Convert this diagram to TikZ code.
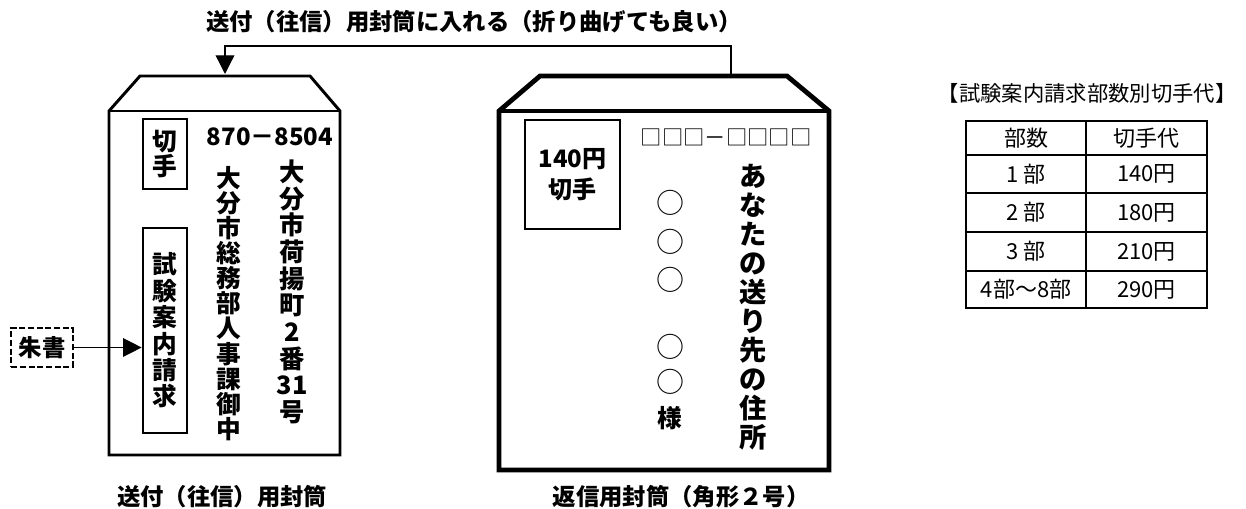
\documentclass[tikz,border=0pt]{standalone}
\usepackage{fontspec}
\newfontfamily\jp{Noto Sans CJK JP}
\usepackage{tikz}
\usetikzlibrary{arrows.meta}
\tikzset{
    envline/.style={line width=2.2pt},
    bigenvline/.style={line width=3.6pt},
    stampbox/.style={draw, line width=2pt, inner sep=0pt},
    tate/.style 2 args={align=center, inner sep=0pt, font=\jp\bfseries\fontsize{#1}{#2}\selectfont},
    boldlabel/.style={inner sep=0pt, font=\jp\bfseries\fontsize{17.5}{20}\selectfont},
    thinlabel/.style={inner sep=0pt, font=\jp\fontsize{#1}{20}\selectfont},
    tablecell/.style={inner sep=0pt, font=\jp\fontsize{16.5}{18}\selectfont},
    bigtip/.style={-{Triangle[length=14pt,width=14pt]}}
}

\begin{document}
\begin{tikzpicture}[x=0.75pt, y=-0.75pt]
            \useasboundingbox (0,0) rectangle (1246,509);

            % 1. Outgoing envelope
            \draw[envline] (109,455) -- (109,111) -- (140,76) -- (310,76) -- (340,111) -- (340,455) -- cycle;
            \draw[envline] (109,111) -- (340,111);
            \node[stampbox, tate={18.5}{19}, minimum width=33pt, minimum height=52.5pt] (lstamp) at (165,154) {切\\手};
            \node[stampbox, tate={18.5}{19.8}, minimum width=33pt, minimum height=153.75pt] (reqbox) at (165,330.5) {試\\験\\案\\内\\請\\求};
            \node[boldlabel, font=\jp\bfseries\fontsize{18}{20}\selectfont] (zip) at (270,137) {870－8504};
            \node[tate={19}{20}] (addr) at (292,292) {大\\分\\市\\荷\\揚\\町\\2\\番\\31\\号};
            \node[tate={18.5}{18.8}] (dept) at (229,303.5) {大\\分\\市\\総\\務\\部\\人\\事\\課\\御\\中};
            \node[boldlabel] (lcap) at (222,497) {送付（往信）用封筒};

            % 2. Red-ink note
            \node[draw, dashed, line width=1.5pt, dash pattern=on 4.5pt off 2pt, boldlabel,
                  minimum width=46pt, minimum height=29pt] (zhusho) at (42,347.5) {朱書};
            \draw[bigtip, line width=1pt] (zhusho.east) -- (zhusho.east -| reqbox.west);

            % 3. Return envelope
            \draw[bigenvline] (499,470) -- (499,111) -- (540,76) -- (787,76) -- (829,111) -- (829,470) -- cycle;
            \draw[bigenvline] (499,111) -- (829,111);
            \node[stampbox, tate={18}{23.25}, minimum width=71.25pt, minimum height=81.75pt] (rstamp) at (572.5,174.5) {140円\\切手};
            \node[thinlabel=16] (rzip) at (726,137) {□□□－□□□□};
            \node[tate={20.5}{21.7}] (raddr) at (753,307) {あ\\な\\た\\の\\送\\り\\先\\の\\住\\所};
            \foreach \cy in {203,242,280,347,382}
                \node[thinlabel=21] (maru\cy) at (670,\cy) {○};
            \node[tate={18.5}{20}] (sama) at (670,418) {様};
            \node[boldlabel] (rcap) at (681,497) {返信用封筒（角形２号）};

            % 4. Connector on top
            \node[boldlabel] (toplabel) at (474,22) {送付（往信）用封筒に入れる（折り曲げても良い）};
            \coordinate (rflap) at (731,76);
            \coordinate (lflap) at (225,74);
            \draw[bigtip, line width=1pt] (rflap) -- ++(0,-30) -| (lflap);

            % 5. Stamp price table
            \node[thinlabel=16] (ttitle) at (1087,93) {【試験案内請求部数別切手代】};
            \draw[line width=0.8pt] (966,121) rectangle (1207,308);
            \draw[line width=0.8pt] (1086,121) -- (1086,308);
            \foreach \ry in {155,193,232,271}
                \draw[line width=0.8pt] (966,\ry) -- (1207,\ry);
            \node[tablecell] (h1) at (1026,138) {部数};
            \node[tablecell] (h2) at (1146.5,138) {切手代};
            \node[tablecell] (a1) at (1026,174) {1 部};
            \node[tablecell] (b1) at (1146.5,174) {140円};
            \node[tablecell] (a2) at (1026,212.5) {2 部};
            \node[tablecell] (b2) at (1146.5,212.5) {180円};
            \node[tablecell] (a3) at (1026,251.5) {3 部};
            \node[tablecell] (b3) at (1146.5,251.5) {210円};
            \node[tablecell] (a4) at (1026,289.5) {4部～8部};
            \node[tablecell] (b4) at (1146.5,289.5) {290円};
        \end{tikzpicture}
\end{document}
